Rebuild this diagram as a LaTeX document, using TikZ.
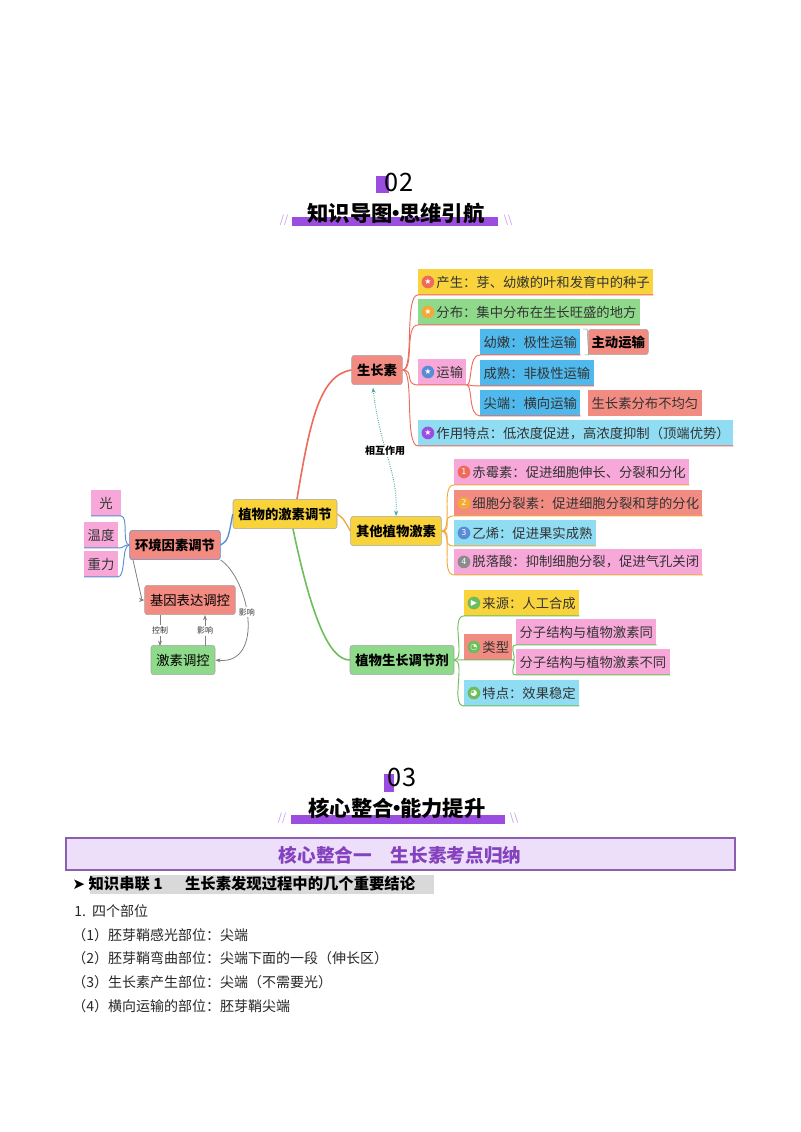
\documentclass[tikz,border=0pt]{standalone}
\usepackage{fontspec}
\setmainfont{Noto Sans CJK SC}
\newfontfamily\dejavu{DejaVu Sans}
\usetikzlibrary{arrows.meta}
\definecolor{cyel}{HTML}{F9D33C}
\definecolor{cgrn}{HTML}{8ED98A}
\definecolor{csal}{HTML}{F28B82}
\definecolor{cpink}{HTML}{F7A8D8}
\definecolor{cblue}{HTML}{4FB8EC}
\definecolor{clb}{HTML}{8FDCF3}
\definecolor{cred}{HTML}{EE6A5A}
\definecolor{corg}{HTML}{F3A93A}
\definecolor{cgl}{HTML}{6DBE5A}
\definecolor{cbl}{HTML}{5A8BD6}
\definecolor{cpur}{HTML}{9B4DE0}
\newcommand\ico[2]{\tikz[baseline=-0.7ex]\node[circle,fill=#1,text=white,inner sep=0.6pt,minimum size=9.5pt,font=\dejavu\fontsize{6}{6}\selectfont]{#2};\,}
\newcommand\mdt{\kern-0.35em·\kern-0.35em}
\begin{document}
\begin{tikzpicture}[x=0.75pt,y=-0.75pt,
  main/.style={draw=black!35,rounded corners=2pt,font=\bfseries\fontsize{10}{11}\selectfont,inner sep=4pt,minimum height=22pt},
  leaf/.style={anchor=west,font=\fontsize{10}{11}\selectfont,inner sep=2.5pt,minimum height=19pt,text=black!80},
  lab/.style={font=\fontsize{6}{7}\selectfont,text=black!80},
  body/.style={anchor=west,font=\fontsize{10.5}{12}\selectfont,inner sep=0pt,text=black!85},
  gl/.style={draw=black!50,line width=0.6pt,-{Stealth[length=4pt]}}]
\useasboundingbox (0,0) rectangle (800,1132);
% ---- heading 02
\fill[cpur] (376,176) rectangle (389,193);
\node[font=\fontsize{19}{20}\selectfont] (n02) at (399,182) {02};
\fill[cpur] (292,217) rectangle (498,226);
\node[font=\bfseries\fontsize{16}{18}\selectfont] (t02) at (396,213) {知识导图\mdt 思维引航};
\node[text=cpur!60,font=\fontsize{8}{8}\selectfont] (s1) at (284,220) {//};
\node[text=cpur!60,font=\fontsize{8}{8}\selectfont] (s2) at (508,220) {\textbackslash\textbackslash};
% ---- main nodes
\node[main,fill=cyel] (root) at (285,514) {植物的激素调节};
\node[main,fill=csal] (szs) at (377,370) {生长素};
\node[main,fill=cyel] (qt) at (396,531) {其他植物激素};
\node[main,fill=cgrn] (tj) at (402,660) {植物生长调节剂};
\node[main,fill=csal,draw=cbl] (hj) at (175,545) {环境因素调节};
\node[leaf,fill=cpink,anchor=center,minimum width=22pt] (g) at (106,503) {光};
\node[leaf,fill=cpink,anchor=center] (wd) at (101,535) {温度};
\node[leaf,fill=cpink,anchor=center] (zl) at (101,564) {重力};
\node[main,fill=csal,font=\fontsize{10}{11}\selectfont] (jy) at (190,600) {基因表达调控};
\node[main,fill=cgrn,font=\fontsize{10}{11}\selectfont] (js) at (183,660) {激素调控};
% ---- leaves of 生长素
\node[leaf,fill=cyel] (a1) at (418,282) {\ico{cred}{★}产生：芽、幼嫩的叶和发育中的种子};
\node[leaf,fill=cgrn] (a2) at (418,312) {\ico{corg}{★}分布：集中分布在生长旺盛的地方};
\node[leaf,fill=cpink] (a3) at (418,372) {\ico{cbl}{★}运输};
\node[leaf,fill=cblue] (b1) at (480,342) {幼嫩：极性运输};
\node[leaf,fill=cblue] (b2) at (480,373) {成熟：非极性运输};
\node[leaf,fill=cblue] (b3) at (480,403) {尖端：横向运输};
\node[main,fill=csal,font=\bfseries\fontsize{10}{11}\selectfont,anchor=west,minimum height=19pt,inner sep=2.5pt] (zd) at (588,342) {主动运输};
\node[leaf,fill=csal] (bj) at (588,403) {生长素分布不均匀};
\node[leaf,fill=clb] (a4) at (418,433) {\ico{cpur}{★}作用特点：低浓度促进，高浓度抑制（顶端优势）};
% ---- leaves of 其他
\node[leaf,fill=cpink] (c1) at (454,472) {\ico{cred}{1}赤霉素：促进细胞伸长、分裂和分化};
\node[leaf,fill=csal] (c2) at (454,503) {\ico{corg}{2}细胞分裂素：促进细胞分裂和芽的分化};
\node[leaf,fill=clb] (c3) at (454,533) {\ico{cbl}{3}乙烯：促进果实成熟};
\node[leaf,fill=cpink] (c4) at (454,562) {\ico{black!45}{4}脱落酸：抑制细胞分裂，促进气孔关闭};
% ---- leaves of 调节剂
\node[leaf,fill=cyel] (d1) at (464,603) {\ico{cgl}{▶}来源：人工合成};
\node[leaf,fill=csal] (d2) at (464,647) {\ico{cgl}{◔}类型};
\node[leaf,fill=cpink] (e1) at (516,632) {分子结构与植物激素同};
\node[leaf,fill=cpink] (e2) at (516,662) {分子结构与植物激素不同};
\node[leaf,fill=clb] (d3) at (464,693) {\ico{cgl}{◕}特点：效果稳定};
% ---- main connectors
\draw[cred,line width=1.2pt] ([xshift=9pt]root.north) .. controls (310,420) and (320,375) .. (szs.west);
\draw[corg,line width=1pt] (root.east) .. controls (343,518) .. (qt.west);
\draw[cgl,line width=1.2pt] ([xshift=6pt]root.south) .. controls (312,620) and (330,660) .. (tj.west);
\draw[cbl,line width=1pt] (root.west) .. controls (228,540) .. (hj.east);
% branches
\foreach \n in {a1,a2,a3,a4}{\draw[cred,line width=0.7pt] (szs.east) .. controls +(12,0) and +(-14,0) .. (\n.south west) -- (\n.south east);}
\foreach \n in {b1,b2,b3}{\draw[cred,line width=0.7pt] (a3.south east) .. controls +(6,0) and +(-12,0) .. (\n.south west) -- (\n.south east);}
\draw[black!40] ([xshift=2pt]b1.north east) -- ++(4,0) coordinate (k1) -- ([xshift=6pt]b1.south east) -- ++(-4,0);
\draw[black!40] ([xshift=6pt]b1.east) -- (zd.west);
\foreach \n in {c1,c2,c3,c4}{\draw[corg,line width=0.7pt] (qt.east) .. controls +(12,0) and +(-14,0) .. (\n.south west) -- (\n.south east);}
\foreach \n in {d1,d2,d3}{\draw[cgl,line width=0.7pt] (tj.east) .. controls +(12,0) and +(-14,0) .. (\n.south west) -- (\n.south east);}
\foreach \n in {e1,e2}{\draw[cgl,line width=0.7pt] (d2.south east) .. controls +(5,0) and +(-8,0) .. (\n.south west) -- (\n.south east);}
\foreach \n in {g,wd,zl}{\draw[cbl,line width=0.7pt] (hj.west) .. controls +(-8,0) and +(8,0) .. (\n.south east) -- (\n.south west);}
% environment arrows
\coordinate (h1) at (133,560);
\draw[gl] (h1) -- (142,600) -- (jy.west);
\draw[gl] (160,615) -- node[lab,fill=white,inner sep=1pt]{控制} (160,646);
\draw[gl] (205,646) -- node[lab,fill=white,inner sep=1pt]{影响} (205,615);
\draw[gl] (hj.south east) .. controls (250,580) and (265,665) .. node[lab,fill=white,inner sep=1pt,pos=0.45]{影响} (js.east);
% interaction
\draw[teal!70,densely dotted,line width=0.7pt,{Stealth[length=4pt]}-{Stealth[length=4pt]}] ([xshift=-3pt,yshift=-2pt]szs.south) .. controls (380,450) and (398,470) .. (qt.north);
\node[font=\bfseries\fontsize{7.5}{9}\selectfont,fill=white,inner sep=1pt] (hz) at (385,451) {相互作用};
% ---- heading 03
\fill[cpur] (384,774) rectangle (394,792);
\node[font=\fontsize{19}{20}\selectfont] (n03) at (402,777) {03};
\fill[cpur] (291,815) rectangle (505,824);
\node[font=\bfseries\fontsize{16}{18}\selectfont] (t03) at (397,808) {核心整合\mdt 能力提升};
\node[text=cpur!60,font=\fontsize{8}{8}\selectfont] (s3) at (282,818) {//};
\node[text=cpur!60,font=\fontsize{8}{8}\selectfont] (s4) at (514,818) {\textbackslash\textbackslash};
\draw[draw=cpur!70!black!80,fill=cpur!18,line width=1.5pt] (66,838) rectangle (735,870);
\node[text=cpur!85!black,font=\bfseries\fontsize{14}{16}\selectfont] (hx) at (400,855) {核心整合一\quad 生长素考点归纳};
\fill[black!15] (90,875) rectangle (434,894);
\node[anchor=west,font=\bfseries\fontsize{11.5}{13}\selectfont,inner sep=0pt] (zs) at (72,884) {{\dejavu ➤} 知识串联 1\quad\ \ 生长素发现过程中的几个重要结论};
\node[body] (l1) at (74,911) {1.\ \ 四个部位};
\node[body] (l2) at (72,935) {（1）胚芽鞘感光部位：尖端};
\node[body] (l3) at (72,958) {（2）胚芽鞘弯曲部位：尖端下面的一段（伸长区）};
\node[body] (l4) at (72,982) {（3）生长素产生部位：尖端（不需要光）};
\node[body] (l5) at (72,1006) {（4）横向运输的部位：胚芽鞘尖端};
\end{tikzpicture}
\end{document}
